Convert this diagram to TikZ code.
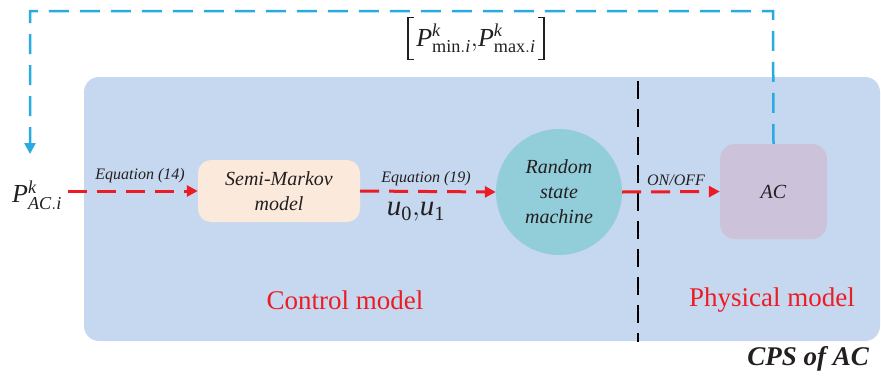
\documentclass[tikz,border=0pt]{standalone}
\usepackage{fix-cm}
\usepackage{fontspec}
\setmainfont{Liberation Serif}
\usetikzlibrary{arrows.meta}
\definecolor{bigbg}{HTML}{C6D8EF}
\definecolor{peach}{HTML}{FBEADB}
\definecolor{teal}{HTML}{92CDDA}
\definecolor{lilac}{HTML}{CCC3DA}
\definecolor{redc}{HTML}{ED1C24}
\definecolor{bluec}{HTML}{29ABE2}
\definecolor{txt}{HTML}{231F20}
\tikzset{
  redarrow/.style={draw=redc, line width=3pt, dash pattern=on 19pt off 10pt, -{Triangle[length=11pt,width=11pt]}},
  bluearrow/.style={draw=bluec, line width=2.5pt, dash pattern=on 20pt off 11pt},
  lbl/.style={text=txt, font=\itshape\fontsize{16}{18}\selectfont, inner sep=0pt},
  boxtxt/.style={text=txt, font=\itshape\fontsize{20}{25}\selectfont, align=center},
  region/.style={text=redc, font=\fontsize{27}{30}\selectfont, inner sep=0pt},
  mathtxt/.style={text=txt, font=\fontsize{26}{30}\selectfont, inner sep=0pt},
  brk/.style={draw=txt, line width=1.3pt}
}
\begin{document}
\begin{tikzpicture}[x=1pt,y=-1pt]
\useasboundingbox (0,0) rectangle (881,378);
% background region
\fill[bigbg, rounded corners=15pt] (84,77) rectangle (880,341);
% nodes
\node[boxtxt, fill=peach, rounded corners=13pt, minimum width=162pt, minimum height=62pt] (smk) at (279,191) {Semi-Markov\\model};
\node[boxtxt, fill=teal, circle, minimum size=126pt, inner sep=0pt] (rsm) at (559,192) {Random\\state\\machine};
\node[boxtxt, fill=lilac, rounded corners=15pt, minimum width=107pt, minimum height=95pt] (ac) at (773.5,191.5) {AC};
\node[mathtxt, inner sep=1pt] (pin) at (37,195) {$\mathit{P}^{\mathit{k}}_{\mathit{AC.i}}$};
% black dashed divider
\coordinate (dtop) at (638,81);
\coordinate (dbot) at (638,342);
\draw[black, line width=2.5pt, dash pattern=on 18pt off 10pt] (dtop) -- (dbot);
% red arrows
\coordinate (r1s) at (68,191);
\draw[redarrow] (r1s) -- (smk.west);
\draw[redarrow] (smk.east) -- (rsm.west);
\draw[redarrow] (rsm.east) -- (ac.west);
% labels on arrows
\node[lbl] (eq14) at (140,176) {Equation (14)};
\node[lbl] (eq19) at (426,179) {Equation (19)};
\node[lbl] (onoff) at (676,180) {ON/OFF};
\node[mathtxt, font=\fontsize{29}{32}\selectfont] (uu) at (416,212) {$\mathit{u}_{\mathrm{0}}\mathrm{,}\mathit{u}_{\mathrm{1}}$};
% blue feedback
\coordinate (tr) at (773,11);
\coordinate (tl) at (30,11);
\coordinate (bend) at (30,154);
\draw[bluearrow] (ac.north) -- (tr) -- (tl) -- (bend);
\draw[bluec, line width=2.5pt, -{Triangle[length=11pt,width=11pt]}] (30,141) -- (bend);
\node[mathtxt, inner xsep=8pt, minimum height=42pt] (pbr) at (476,38.5) {$\mathit{P}^{\mathit{k}}_{\mathrm{min}.\mathit{i}}\mathrm{,}\mathit{P}^{\mathit{k}}_{\mathrm{max}.\mathit{i}}$};
\draw[brk] ([xshift=6pt]pbr.north west) -- (pbr.north west) -- (pbr.south west) -- ([xshift=6pt]pbr.south west);
\draw[brk] ([xshift=-6pt]pbr.north east) -- (pbr.north east) -- (pbr.south east) -- ([xshift=-6pt]pbr.south east);
% region labels
\node[region] (cm) at (345,300) {Control model};
\node[region] (pm) at (772,300) {Physical model};
\node[text=txt, font=\bfseries\itshape\fontsize{27}{30}\selectfont, anchor=east, inner sep=0pt] (cps) at (869,359) {CPS of AC};
\end{tikzpicture}
\end{document}
